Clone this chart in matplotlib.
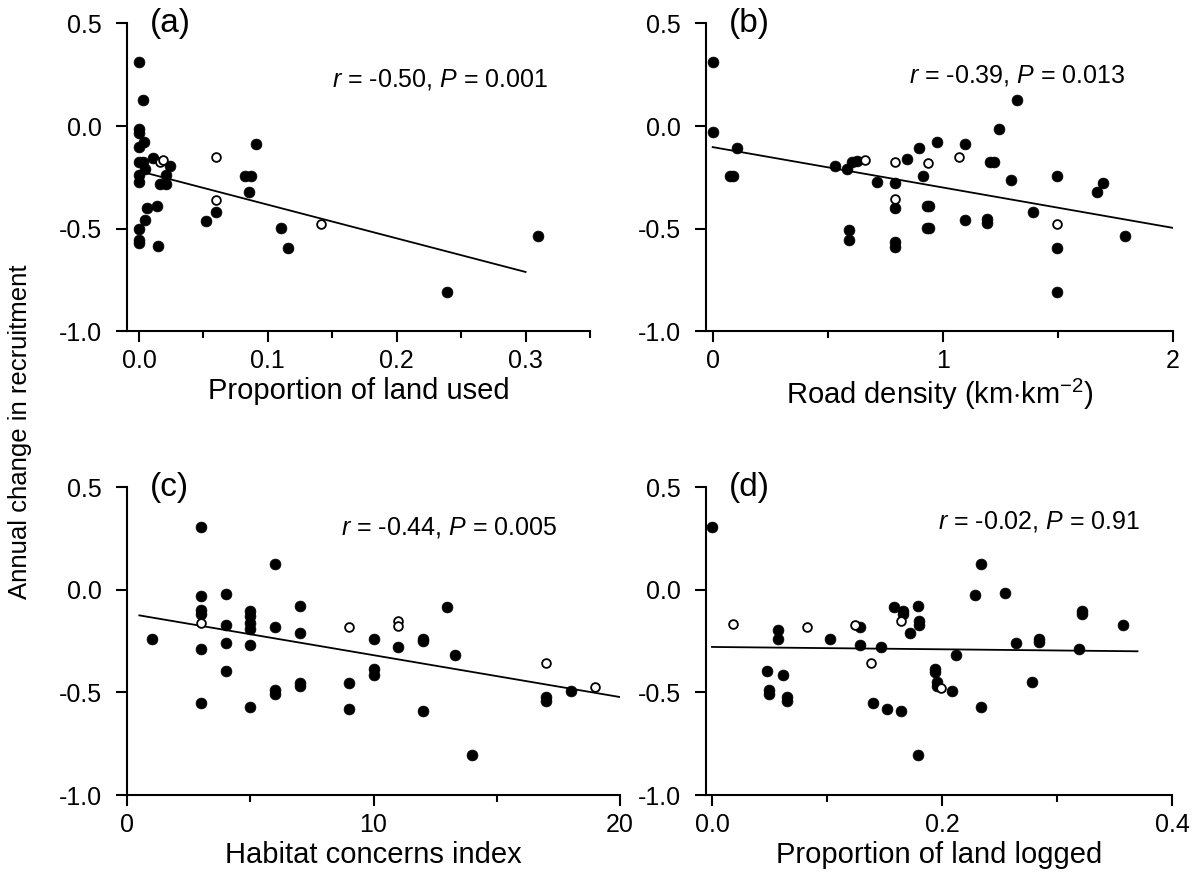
import matplotlib
matplotlib.use("Agg")
import matplotlib.pyplot as plt
import numpy as np
from matplotlib.ticker import MultipleLocator, FixedLocator

plt.rcParams["font.family"] = ["Liberation Sans", "DejaVu Sans"]
plt.rcParams["mathtext.fontset"] = "custom"
plt.rcParams["mathtext.rm"] = "Liberation Sans"
plt.rcParams["mathtext.it"] = "Liberation Sans:italic"
plt.rcParams["axes.unicode_minus"] = False

# (a) proportion of land used
a_fill_x = [0.000, 0.003, 0.000, 0.000, 0.004, 0.000, 0.011, 0.000, 0.003, 0.024,
            0.005, 0.000, 0.021, 0.000, 0.016, 0.021, 0.006, 0.014, 0.005, 0.000,
            0.000, 0.000, 0.015, 0.052, 0.060, 0.082, 0.087, 0.085, 0.091, 0.110,
            0.116, 0.239, 0.310]
a_fill_y = [0.311, 0.129, -0.015, -0.035, -0.077, -0.101, -0.158, -0.178, -0.178, -0.194,
            -0.212, -0.239, -0.239, -0.272, -0.285, -0.285, -0.399, -0.391, -0.459, -0.500,
            -0.554, -0.573, -0.585, -0.463, -0.420, -0.243, -0.243, -0.322, -0.086, -0.498,
            -0.594, -0.809, -0.536]
a_open_x = [0.016, 0.019, 0.060, 0.060, 0.141]
a_open_y = [-0.178, -0.166, -0.153, -0.360, -0.476]
a_fit = (-0.22, -1.64, 0.0, 0.30)   # intercept, slope, x from, x to

# (b) road density
b_fill_x = [0.000, 0.000, 0.107, 0.075, 0.090, 0.532, 0.583, 0.605, 0.625, 0.594,
            0.594, 0.713, 0.793, 0.793, 0.793, 0.793, 0.843, 0.897, 0.913, 0.930,
            0.940, 0.930, 0.940, 0.974, 1.097, 1.097, 1.191, 1.191, 1.205, 1.222,
            1.245, 1.296, 1.322, 1.391, 1.496, 1.496, 1.496, 1.670, 1.696, 1.793]
b_fill_y = [0.311, -0.028, -0.106, -0.243, -0.243, -0.194, -0.212, -0.178, -0.170, -0.505,
            -0.557, -0.272, -0.280, -0.399, -0.567, -0.588, -0.161, -0.106, -0.243, -0.389,
            -0.389, -0.498, -0.498, -0.077, -0.086, -0.459, -0.452, -0.472, -0.174, -0.174,
            -0.016, -0.264, 0.129, -0.420, -0.243, -0.594, -0.809, -0.324, -0.280, -0.536]
b_open_x = [0.662, 0.793, 0.793, 0.935, 1.072, 1.496]
b_open_y = [-0.166, -0.174, -0.358, -0.179, -0.153, -0.476]
b_fit = (-0.103, -0.197, 0.0, 2.0)

# (c) habitat concerns index
c_fill_x = [1, 3, 3, 3, 3, 3, 3, 4, 4, 4, 4, 5, 5, 5, 5, 5, 5, 6, 6, 6, 6, 7, 7, 7, 7,
            9, 9, 10, 10, 10, 11, 12, 12, 12, 13, 13.3, 14, 17, 17, 18]
c_fill_y = [-0.242, 0.307, -0.029, -0.100, -0.120, -0.291, -0.553, -0.019, -0.173, -0.260,
            -0.397, -0.105, -0.129, -0.162, -0.190, -0.270, -0.570, 0.126, -0.184, -0.488,
            -0.508, -0.078, -0.213, -0.455, -0.468, -0.454, -0.582, -0.241, -0.388, -0.415,
            -0.281, -0.240, -0.252, -0.591, -0.086, -0.318, -0.803, -0.525, -0.541, -0.493]
c_open_x = [3, 9, 11, 11, 17, 19]
c_open_y = [-0.163, -0.181, -0.153, -0.178, -0.355, -0.473]
c_fit = (-0.115, -0.0204, 0.5, 20.0)

# (d) proportion of land logged
d_fill_x = [0.000, 0.057, 0.057, 0.048, 0.050, 0.050, 0.062, 0.065, 0.065, 0.103,
            0.129, 0.129, 0.140, 0.147, 0.152, 0.158, 0.166, 0.166, 0.164, 0.172,
            0.179, 0.180, 0.180, 0.179, 0.194, 0.194, 0.196, 0.196, 0.209, 0.212,
            0.229, 0.234, 0.234, 0.255, 0.264, 0.278, 0.284, 0.284, 0.319, 0.322,
            0.322, 0.357]
d_fill_y = [0.307, -0.194, -0.242, -0.397, -0.490, -0.506, -0.415, -0.525, -0.541, -0.242,
            -0.181, -0.270, -0.553, -0.280, -0.582, -0.086, -0.102, -0.118, -0.590, -0.213,
            -0.078, -0.152, -0.172, -0.803, -0.385, -0.401, -0.452, -0.468, -0.493, -0.318,
            -0.027, 0.126, -0.570, -0.018, -0.260, -0.452, -0.238, -0.254, -0.288, -0.102,
            -0.118, -0.173]
d_open_x = [0.018, 0.083, 0.124, 0.138, 0.164, 0.199]
d_open_y = [-0.165, -0.183, -0.173, -0.355, -0.153, -0.477]
d_fit = (-0.279, -0.057, 0.0, 0.37)

panels = [
    dict(tag="(a)", fx=a_fill_x, fy=a_fill_y, ox=a_open_x, oy=a_open_y, fit=a_fit,
         xlim=(-0.0093, 0.35), major=[0.0, 0.1, 0.2, 0.3], fmt="{:.1f}", minor=0.05,
         xlabel="Proportion of land used", stat=r"$\it{r}$ = -0.50, $\it{P}$ = 0.001",
         pos=[127, 331, 590, 23.5], tx=548, ty=80),
    dict(tag="(b)", fx=b_fill_x, fy=b_fill_y, ox=b_open_x, oy=b_open_y, fit=b_fit,
         xlim=(-0.029, 2.0), major=[0, 1, 2], fmt="{:.0f}", minor=0.5,
         xlabel=r"Road density (km$\cdot$km$^{-2}$)",
         stat=r"$\it{r}$ = -0.39, $\it{P}$ = 0.013",
         pos=[706, 331, 1173, 23.5], tx=1125, ty=75),
    dict(tag="(c)", fx=c_fill_x, fy=c_fill_y, ox=c_open_x, oy=c_open_y, fit=c_fit,
         xlim=(0, 20), major=[0, 10, 20], fmt="{:.0f}", minor=5,
         xlabel="Habitat concerns index", stat=r"$\it{r}$ = -0.44, $\it{P}$ = 0.005",
         pos=[127, 795, 620, 487], tx=557, ty=527),
    dict(tag="(d)", fx=d_fill_x, fy=d_fill_y, ox=d_open_x, oy=d_open_y, fit=d_fit,
         xlim=(-0.0052, 0.4), major=[0.0, 0.2, 0.4], fmt="{:.1f}", minor=0.1,
         xlabel="Proportion of land logged", stat=r"$\it{r}$ = -0.02, $\it{P}$ = 0.91",
         pos=[706, 795, 1172, 487], tx=1140, ty=522),
]

W, H = 1202, 888
fig = plt.figure(figsize=(W / 100, H / 100), dpi=100)

for p in panels:
    x0, y0, x1, y1 = p["pos"]
    ax = fig.add_axes([x0 / W, 1 - y0 / H, (x1 - x0) / W, (y0 - y1) / H])
    b0, slope, lo, hi = p["fit"]
    xs = np.array([lo, hi])
    ax.plot(xs, b0 + slope * xs, color="black", lw=1.3, zorder=2)
    ax.plot(p["fx"], p["fy"], "o", ms=7.8, mfc="black", mec="black", mew=0.5,
            ls="none", zorder=3, clip_on=False)
    ax.plot(p["ox"], p["oy"], "o", ms=6.3, mfc="white", mec="black", mew=1.3,
            ls="none", zorder=4, clip_on=False)
    ax.set_xlim(*p["xlim"])
    ax.set_ylim(-1.0, 0.5)
    ax.set_yticks([0.5, 0.0, -0.5, -1.0])
    ax.set_yticklabels(["0.5", "0.0", "-0.5", "-1.0"])
    ax.xaxis.set_major_locator(FixedLocator(p["major"]))
    ax.set_xticklabels([p["fmt"].format(v) for v in p["major"]])
    ax.xaxis.set_minor_locator(MultipleLocator(p["minor"]))
    for s in ("top", "right"):
        ax.spines[s].set_visible(False)
    for s in ("left", "bottom"):
        ax.spines[s].set_linewidth(1.5)
    ax.tick_params(axis="both", which="major", direction="out", length=8, width=1.5,
                   labelsize=18)
    ax.tick_params(axis="x", which="minor", direction="out", length=5, width=1.5)
    ax.tick_params(axis="y", pad=10)
    ax.tick_params(axis="x", pad=5)
    ax.set_xlabel(p["xlabel"], fontsize=21, labelpad=3)
    ax.text(23 / (x1 - x0), 1.0, p["tag"], transform=ax.transAxes, fontsize=24,
            ha="left", va="center")
    ax.text((p["tx"] - x0) / (x1 - x0), (y0 - p["ty"]) / (y0 - y1), p["stat"],
            transform=ax.transAxes, fontsize=18, ha="right", va="center")

fig.text(20 / W, 1 - 432 / H, "Annual change in recruitment", rotation=90,
         fontsize=18.5, ha="center", va="center")

fig.savefig("out.png", dpi=100)
